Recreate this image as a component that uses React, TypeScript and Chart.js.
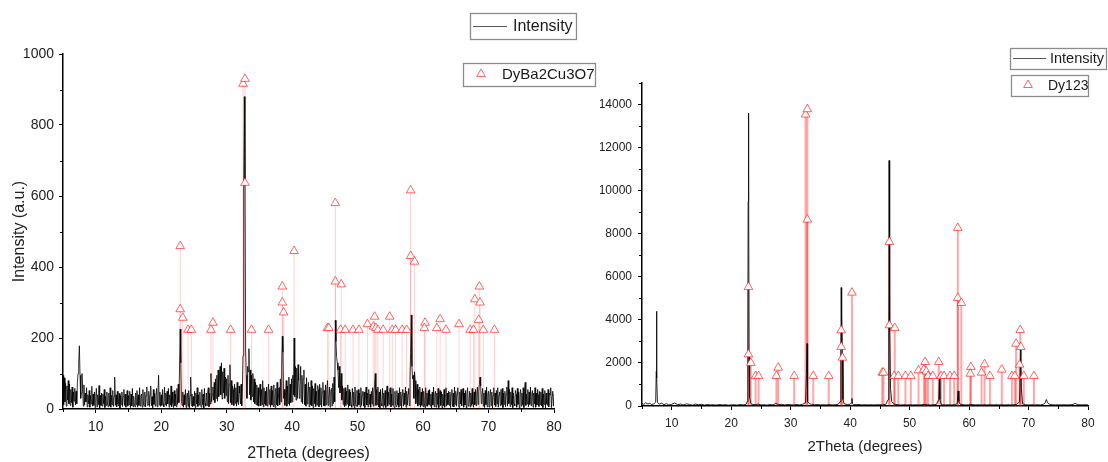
import React, { useEffect, useRef } from "react";
import { Chart, registerables } from "chart.js";

Chart.register(...registerables);

const FONT = '"Liberation Sans", Arial, Helvetica, sans-serif';
Chart.defaults.font.family = FONT;

// ---------- axis ticks ----------
const xTickValues = [10, 20, 30, 40, 50, 60, 70, 80];
const xMinorValues = [5, 15, 25, 35, 45, 55, 65, 75];
const leftYTickValues = [0, 200, 400, 600, 800, 1000];
const leftYMinorValues = [100, 300, 500, 700, 900];
const rightYTickValues = [0, 2000, 4000, 6000, 8000, 10000, 12000, 14000];
const rightYMinorValues = [1000, 3000, 5000, 7000, 9000, 11000, 13000, 15000];

// ---------- left pattern: intensity read on a 0.1 degree grid ----------
const LEFT_STEP = 0.1;
const leftI_5to20 = [
  95, 12, 88, 20, 72, 8, 65, 25, 80, 15,
  70, 10, 55, 18, 62, 5, 48, 22, 58, 12,
  50, 15, 75, 100, 130, 178, 95, 30, 45, 100,
  55, 8, 68, 12, 45, 20, 60, 6, 40, 15,
  52, 5, 38, 14, 64, 8, 42, 10, 48, 4,
  35, 58, 6, 40, 12, 66, 3, 38, 10, 45,
  8, 42, 15, 55, 4, 36, 10, 48, 14, 6,
  45, 9, 60, 5, 38, 12, 52, 7, 35, 90,
  10, 40, 6, 50, 14, 9, 44, 3, 38, 12,
  48, 7, 35, 55, 10, 42, 5, 30, 52, 8,
  38, 12, 50, 4, 42, 9, 58, 6, 36, 14,
  6, 45, 12, 52, 5, 40, 10, 60, 8, 35,
  42, 5, 55, 14, 8, 48, 6, 38, 62, 10,
  12, 50, 7, 40, 65, 9, 35, 4, 55, 13,
  45, 8, 38, 58, 6, 42, 95, 11, 48, 7,
];
const leftI_20to35 = [
  40, 10, 55, 15, 6, 62, 12, 45, 8, 50,
  14, 58, 5, 40, 11, 65, 7, 48, 16, 4,
  52, 9, 42, 6, 58, 13, 70, 18, 110, 225,
  130, 20, 10, 48, 5, 40, 12, 55, 4, 38,
  45, 8, 52, 3, 38, 90, 10, 42, 6, 35,
  9, 50, 4, 45, 14, 60, 7, 40, 11, 48,
  15, 5, 55, 12, 42, 3, 58, 16, 8, 45,
  10, 48, 60, 6, 45, 14, 100, 20, 40, 62,
  25, 75, 18, 85, 30, 95, 22, 110, 35, 90,
  120, 40, 130, 28, 105, 45, 115, 30, 90, 38,
  85, 20, 95, 15, 70, 125, 18, 80, 12, 65,
  55, 10, 70, 16, 60, 8, 75, 20, 12, 65,
  45, 14, 70, 9, 60, 150, 620, 880, 640, 160,
  95, 30, 120, 105, 170, 40, 110, 25, 95, 35,
  100, 20, 85, 15, 75, 12, 68, 10, 60, 8,
];
const leftI_35to50 = [
  45, 70, 9, 55, 12, 80, 6, 60, 14, 50,
  10, 62, 8, 48, 70, 13, 55, 5, 65, 11,
  52, 7, 68, 15, 4, 58, 12, 75, 9, 30,
  60, 12, 85, 20, 120, 205, 160, 30, 55, 10,
  45, 80, 8, 65, 15, 90, 10, 70, 18, 85,
  20, 95, 40, 200, 35, 120, 25, 115, 30, 125,
  80, 30, 65, 120, 20, 95, 15, 85, 110, 12,
  70, 8, 88, 14, 40, 75, 6, 62, 12, 80,
  9, 65, 4, 58, 15, 72, 7, 50, 11, 66,
  55, 6, 70, 12, 60, 5, 48, 75, 9, 52,
  8, 68, 12, 55, 80, 10, 35, 62, 5, 50,
  58, 9, 72, 15, 90, 20, 250, 190, 145, 130,
  110, 60, 120, 45, 70, 100, 25, 65, 12, 58,
  6, 60, 10, 50, 14, 68, 4, 55, 9, 48,
  12, 5, 58, 10, 48, 3, 62, 14, 8, 52,
];
const leftI_50to65 = [
  7, 55, 12, 45, 5, 60, 10, 40, 50, 8,
  48, 4, 38, 62, 11, 45, 6, 55, 13, 42,
  5, 50, 14, 60, 8, 45, 70, 100, 10, 55,
  12, 62, 6, 48, 3, 55, 15, 9, 58, 5,
  45, 10, 52, 4, 40, 65, 8, 48, 13, 55,
  60, 6, 42, 11, 58, 9, 4, 50, 14, 7,
  52, 12, 45, 5, 60, 10, 48, 3, 40, 55,
  8, 45, 13, 62, 5, 50, 11, 42, 58, 9,
  90, 160, 265, 120, 85, 95, 30, 105, 80, 15,
  45, 70, 8, 55, 12, 62, 5, 48, 10, 58,
  6, 50, 14, 4, 60, 9, 45, 7, 52, 12,
  55, 8, 42, 3, 48, 11, 62, 6, 40, 50,
  5, 45, 13, 58, 4, 40, 52, 10, 48, 3,
  42, 9, 55, 5, 38, 60, 8, 45, 12, 50,
  10, 48, 4, 40, 55, 7, 45, 6, 62, 13,
];
const leftI_65to80 = [
  50, 8, 42, 60, 12, 4, 48, 14, 55, 9,
  40, 58, 5, 45, 11, 52, 3, 42, 60, 8,
  13, 50, 6, 45, 10, 58, 14, 5, 48, 12,
  55, 9, 45, 62, 13, 50, 70, 90, 65, 15,
  40, 58, 8, 45, 4, 52, 12, 62, 6, 42,
  50, 5, 40, 55, 10, 48, 3, 38, 60, 11,
  45, 7, 52, 14, 60, 5, 40, 48, 9, 55,
  12, 58, 4, 45, 13, 50, 6, 42, 62, 8,
  80, 15, 55, 7, 48, 12, 60, 4, 45, 14,
  9, 52, 42, 5, 58, 13, 48, 3, 40, 55,
  8, 45, 12, 60, 4, 50, 75, 10, 42, 14,
  55, 6, 48, 13, 62, 9, 40, 52, 5, 45,
  14, 60, 5, 45, 11, 55, 40, 7, 50, 12,
  48, 9, 58, 4, 42, 13, 52, 3, 45, 15,
  10, 55, 6, 45, 40, 60, 4, 38, 50, 8,
  42,
];
const leftBlocks: [number, number[]][] = [
  [5, leftI_5to20],
  [20, leftI_20to35],
  [35, leftI_35to50],
  [50, leftI_50to65],
  [65, leftI_65to80],
];

// ---------- right pattern: [2theta, intensity] ----------
const rightPattern: [number, number][] = [
  [5.0, 120], [5.3, 70], [5.6, 150], [6.0, 90], [6.3, 130], [6.6, 70], [7.0, 100], [7.3, 180],
  [7.4, 1600], [7.45, 4400], [7.5, 1300], [7.6, 160], [7.9, 90], [8.3, 130], [8.7, 60], [9.1, 110],
  [9.5, 50], [10.0, 80], [10.5, 140], [11.0, 60], [11.5, 90], [12.0, 50], [12.5, 100], [13.0, 70],
  [13.5, 40], [14.0, 90], [14.5, 60], [15.0, 80], [15.5, 40], [16.0, 70], [16.5, 50], [17.0, 60],
  [17.5, 40], [18.0, 70], [18.5, 50], [19.0, 60], [19.5, 40], [20.0, 50], [20.5, 60], [21.0, 40],
  [21.5, 70], [22.0, 50], [22.5, 80], [22.7, 200], [22.8, 3000], [22.85, 9500], [22.9, 13600],
  [22.95, 11500], [23.0, 2500], [23.1, 400], [23.3, 120], [23.5, 80], [24.0, 60], [24.5, 90],
  [25.0, 50], [25.5, 60], [26.0, 40], [26.5, 70], [27.0, 50], [27.5, 120], [28.0, 60], [28.5, 80],
  [29.0, 50], [29.5, 70], [30.0, 60], [30.5, 50], [31.0, 70], [31.5, 50], [32.0, 80], [32.5, 150],
  [32.65, 1500], [32.75, 2900], [32.8, 1800], [32.9, 200], [33.2, 100], [33.5, 80], [34.0, 60],
  [34.5, 70], [35.0, 50], [35.5, 60], [36.0, 50], [36.5, 70], [37.0, 50], [37.5, 60], [38.0, 80],
  [38.3, 200], [38.45, 2500], [38.5, 5500], [38.55, 3000], [38.6, 4200], [38.7, 2400], [38.8, 300],
  [39.0, 100], [39.5, 70], [40.0, 80], [40.2, 150], [40.3, 350], [40.4, 120], [40.6, 70], [41.0, 60],
  [41.5, 70], [42.0, 50], [42.5, 60], [43.0, 50], [43.5, 60], [44.0, 50], [44.5, 60], [45.0, 60],
  [45.5, 50], [46.0, 80], [46.4, 300], [46.5, 3500], [46.55, 11400], [46.6, 7500], [46.65, 5000],
  [46.7, 3500], [46.8, 800], [47.0, 200], [47.3, 100], [47.5, 80], [48.0, 60], [48.5, 50], [49.0, 60],
  [49.5, 50], [50.0, 60], [50.5, 50], [51.0, 60], [51.5, 50], [52.0, 60], [52.5, 70], [53.0, 60],
  [53.5, 50], [54.0, 60], [54.5, 70], [54.9, 300], [55.0, 1250], [55.1, 300], [55.3, 80], [55.5, 60],
  [56.0, 50], [56.5, 60], [57.0, 50], [57.5, 60], [58.0, 100], [58.15, 700], [58.3, 200], [58.5, 80],
  [59.0, 60], [59.5, 50], [60.0, 60], [60.5, 70], [61.0, 50], [61.5, 60], [62.0, 50], [62.5, 60],
  [63.0, 50], [63.5, 60], [64.0, 50], [64.5, 60], [65.0, 50], [65.5, 60], [66.0, 50], [66.5, 60],
  [67.0, 50], [67.5, 60], [68.0, 70], [68.5, 200], [68.7, 2600], [68.8, 800], [69.0, 100], [69.5, 60],
  [70.0, 50], [70.5, 60], [71.0, 50], [71.5, 60], [72.0, 50], [72.5, 80], [72.8, 150], [73.0, 300],
  [73.2, 150], [73.5, 80], [74.0, 60], [74.5, 50], [75.0, 60], [75.5, 50], [76.0, 60], [76.5, 50],
  [77.0, 60], [77.5, 70], [77.8, 120], [78.0, 100], [78.3, 60], [79.0, 50], [79.5, 60], [80.0, 50],
];

// ---------- reference peaks (DyBa2Cu3O7 / Dy123) ----------
const refTheta = [
  22.9, 22.9, 23.3, 24.1, 24.6, 27.6, 27.9, 30.6, 32.5, 32.8,
  32.8, 33.8, 36.4, 38.5, 38.5, 38.7, 40.3, 45.4, 45.6, 46.6,
  46.6, 47.5, 47.4, 48.1, 49.3, 50.2, 51.5, 52.6, 52.4, 52.8,
  53.1, 53.9, 54.9, 55.3, 55.8, 56.8, 57.5, 58.1, 58.1, 58.7,
  60.3, 60.2, 62.1, 62.6, 63.5, 65.5, 67.2, 67.7, 67.9, 68.6,
  68.7, 68.5, 69.2, 70.9,
];
const refLeft = [
  459, 281, 257, 223, 223, 223, 243, 223, 916, 930,
  637, 223, 223, 345, 300, 272, 445, 228, 228, 580,
  359, 351, 223, 223, 223, 223, 239, 260, 232, 228,
  223, 223, 260, 223, 223, 223, 223, 616, 431, 415,
  243, 228, 228, 253, 223, 239, 223, 223, 309, 345,
  300, 251, 223, 223,
];
const refRight = [
  5529, 2400, 2000, 1394, 1394, 1394, 1781, 1394, 13535, 13783,
  8657, 1394, 1394, 3515, 2741, 2245, 5265, 1549, 1549, 7619,
  3748, 3624, 1394, 1394, 1394, 1394, 1657, 2044, 1688, 1600,
  1394, 1394, 2044, 1394, 1394, 1394, 1394, 8270, 5018, 4785,
  1812, 1500, 1550, 1940, 1394, 1690, 1394, 1394, 2896, 3530,
  2741, 1920, 1394, 1394,
];

// ---------- plugins ----------
function stemPlugin(color: string, width: number) {
  return {
    id: "stems",
    beforeDatasetsDraw(chart: any) {
      const meta = chart.getDatasetMeta(0);
      const y0 = chart.scales.y.getPixelForValue(0);
      const ctx = chart.ctx;
      ctx.save();
      ctx.strokeStyle = color;
      ctx.lineWidth = width;
      for (const el of meta.data) {
        ctx.beginPath();
        ctx.moveTo(el.x, el.y);
        ctx.lineTo(el.x, y0);
        ctx.stroke();
      }
      ctx.restore();
    },
  };
}

function minorTickPlugin(xMinor: number[], yMinor: number[]) {
  return {
    id: "minorTicks",
    afterDraw(chart: any) {
      const { ctx, chartArea, scales } = chart;
      ctx.save();
      ctx.strokeStyle = "#000";
      ctx.lineWidth = 1;
      for (const v of xMinor) {
        const px = Math.round(scales.x.getPixelForValue(v)) + 0.5;
        ctx.beginPath();
        ctx.moveTo(px, chartArea.bottom);
        ctx.lineTo(px, chartArea.bottom + 3);
        ctx.stroke();
      }
      for (const v of yMinor) {
        const py = Math.round(scales.y.getPixelForValue(v)) + 0.5;
        ctx.beginPath();
        ctx.moveTo(chartArea.left - 3, py);
        ctx.lineTo(chartArea.left, py);
        ctx.stroke();
      }
      ctx.restore();
    },
  };
}

type LegendBox = {
  kind: "line" | "tri";
  x: number; y: number; w: number; h: number;
  sx: number; sy: number; sw: number;
  text: string; tx: number; ty: number; size: number;
};

function legendPlugin(items: LegendBox[]) {
  return {
    id: "boxLegend",
    afterDraw(chart: any) {
      const ctx = chart.ctx;
      ctx.save();
      for (const it of items) {
        ctx.strokeStyle = "#8c8c8c";
        ctx.lineWidth = 1.3;
        ctx.strokeRect(it.x + 0.5, it.y + 0.5, it.w, it.h);
        if (it.kind === "line") {
          ctx.strokeStyle = "#555";
          ctx.lineWidth = 1;
          ctx.beginPath();
          ctx.moveTo(it.sx, it.sy + 0.5);
          ctx.lineTo(it.sx + it.sw, it.sy + 0.5);
          ctx.stroke();
        } else {
          const r = 5;
          ctx.strokeStyle = "rgba(255,0,0,0.6)";
          ctx.lineWidth = 1;
          ctx.beginPath();
          ctx.moveTo(it.sx, it.sy - r);
          ctx.lineTo(it.sx + 0.866 * r, it.sy + 0.5 * r);
          ctx.lineTo(it.sx - 0.866 * r, it.sy + 0.5 * r);
          ctx.closePath();
          ctx.stroke();
        }
        ctx.fillStyle = "#1a1a1a";
        ctx.font = `${it.size}px ${FONT}`;
        ctx.textAlign = "left";
        ctx.textBaseline = "middle";
        ctx.fillText(it.text, it.tx, it.ty);
      }
      ctx.restore();
    },
  };
}

// ---------- config builders ----------
function axis(opts: any) {
  const { min, max, ticks, fit, isX, fontSize, pad, title } = opts;
  return {
    type: "linear",
    min,
    max,
    afterBuildTicks: (s: any) => {
      s.ticks = ticks.map((v: number) => ({ value: v }));
    },
    afterFit: (s: any) => {
      if (isX) s.height = fit;
      else s.width = fit;
    },
    grid: { display: true, drawOnChartArea: false, drawTicks: true, tickLength: 4, color: "#000", lineWidth: 1 },
    border: { display: true, color: "#000", width: 1.5 },
    ticks: {
      color: "#222",
      font: { family: FONT, size: fontSize },
      padding: pad,
      maxRotation: 0,
      autoSkip: false,
      callback: (v: any) => String(v),
    },
    title: title || { display: false },
  };
}

function buildLeft(): any {
  const linePts: { x: number; y: number }[] = [];
  for (const [start, arr] of leftBlocks) {
    arr.forEach((y, i) => linePts.push({ x: +(start + i * LEFT_STEP).toFixed(2), y }));
  }
  const markers = refTheta.map((x, i) => ({ x, y: refLeft[i] }));
  return {
    type: "line",
    data: {
      datasets: [
        {
          label: "DyBa2Cu3O7",
          data: markers,
          showLine: false,
          pointStyle: "triangle",
          pointRadius: 5,
          pointBorderWidth: 1,
          pointBorderColor: "rgba(255,0,0,0.6)",
          pointBackgroundColor: "#fff",
          order: 0,
        },
        {
          label: "Intensity",
          data: linePts,
          borderColor: "rgba(0,0,0,0.78)",
          borderWidth: 1,
          pointRadius: 0,
          tension: 0,
          order: 1,
        },
      ],
    },
    options: {
      animation: false,
      responsive: false,
      events: [],
      layout: { padding: { left: 0, right: 46, top: 54, bottom: 0 } },
      plugins: { legend: { display: false }, tooltip: { enabled: false } },
      scales: {
        x: axis({
          min: 5, max: 80, ticks: xTickValues, fit: 53, isX: true, fontSize: 14, pad: 6,
          title: {
            display: true, text: "2Theta (degrees)", color: "#222",
            font: { family: FONT, size: 16, lineHeight: 1 }, padding: { top: 0, bottom: 0 },
          },
        }),
        y: axis({
          min: 0, max: 1000, ticks: leftYTickValues, fit: 63, isX: false, fontSize: 14, pad: 5,
          title: {
            display: true, text: "Intensity (a.u.)", color: "#222",
            font: { family: FONT, size: 16, lineHeight: 1 }, padding: { top: 12, bottom: 0 },
          },
        }),
      },
    },
    plugins: [
      stemPlugin("rgba(255,0,0,0.18)", 1),
      minorTickPlugin(xMinorValues, leftYMinorValues),
      legendPlugin([
        { kind: "line", x: 470, y: 13, w: 106, h: 26, sx: 473, sy: 26, sw: 34, text: "Intensity", tx: 513, ty: 26.5, size: 16 },
        { kind: "tri", x: 463, y: 63, w: 132, h: 23, sx: 481, sy: 74, sw: 0, text: "DyBa2Cu3O7", tx: 502, ty: 75, size: 15 },
      ]),
    ],
  };
}

function buildRight(): any {
  const linePts = rightPattern.map(([x, y]) => ({ x, y }));
  const markers = refTheta.map((x, i) => ({ x, y: refRight[i] }));
  return {
    type: "line",
    data: {
      datasets: [
        {
          label: "Dy123",
          data: markers,
          showLine: false,
          pointStyle: "triangle",
          pointRadius: 5,
          pointBorderWidth: 1,
          pointBorderColor: "rgba(255,0,0,0.6)",
          pointBackgroundColor: "#fff",
          order: 0,
        },
        {
          label: "Intensity",
          data: linePts,
          borderColor: "rgba(0,0,0,0.85)",
          borderWidth: 1,
          pointRadius: 0,
          tension: 0,
          order: 1,
        },
      ],
    },
    options: {
      animation: false,
      responsive: false,
      events: [],
      layout: { padding: { left: 0, right: 20, top: 83, bottom: 0 } },
      plugins: { legend: { display: false }, tooltip: { enabled: false } },
      scales: {
        x: axis({
          min: 5, max: 80, ticks: xTickValues, fit: 56, isX: true, fontSize: 12, pad: 6,
          title: {
            display: true, text: "2Theta (degrees)", color: "#222",
            font: { family: FONT, size: 15, lineHeight: 1 }, padding: { top: 0, bottom: 8 },
          },
        }),
        y: axis({ min: 0, max: 15000, ticks: rightYTickValues, fit: 42, isX: false, fontSize: 12, pad: 6 }),
      },
    },
    plugins: [
      stemPlugin("rgba(255,0,0,0.35)", 2),
      minorTickPlugin(xMinorValues, rightYMinorValues),
      legendPlugin([
        { kind: "line", x: 410, y: 48, w: 96, h: 21, sx: 413, sy: 58, sw: 33, text: "Intensity", tx: 450, ty: 59, size: 14.5 },
        { kind: "tri", x: 411, y: 75, w: 77, h: 21, sx: 428, sy: 85, sw: 0, text: "Dy123", tx: 448, ty: 86, size: 14 },
      ]),
    ],
  };
}

function ChartCanvas({ make, left, width, height }: { make: () => any; left: number; width: number; height: number }) {
  const ref = useRef<HTMLCanvasElement>(null);
  useEffect(() => {
    const chart = new Chart(ref.current as HTMLCanvasElement, make());
    return () => chart.destroy();
  }, []);
  return (
    <canvas
      ref={ref}
      width={width}
      height={height}
      style={{ position: "absolute", left, top: 0, width, height }}
    />
  );
}

export default function App() {
  return (
    <div style={{ position: "fixed", left: 0, top: 0, width: 1108, height: 462, background: "#fff", overflow: "hidden" }}>
      <ChartCanvas make={buildLeft} left={0} width={600} height={462} />
      <ChartCanvas make={buildRight} left={600} width={508} height={462} />
    </div>
  );
}
